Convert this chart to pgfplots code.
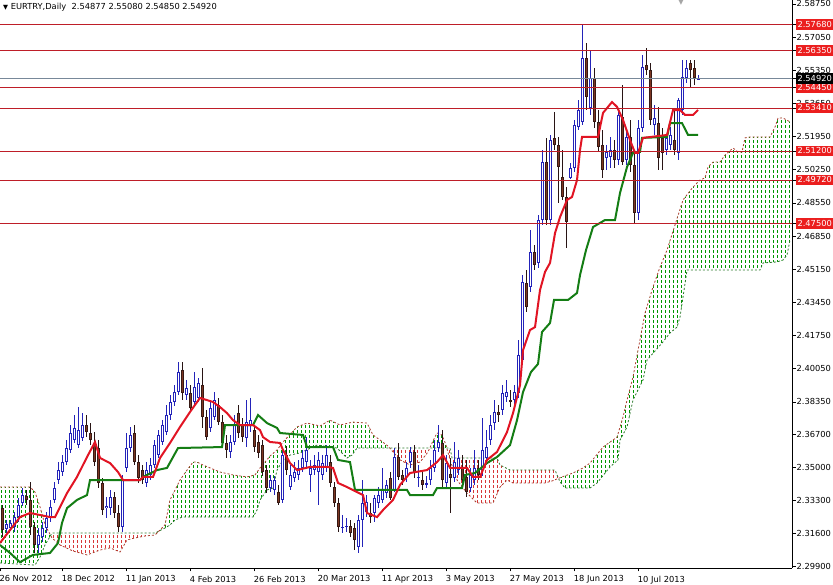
\documentclass[border=0pt]{standalone}
\usepackage{pgfplots}
\pgfplotsset{compat=1.18}
\usepackage{pgfplotstable}
\usepgfplotslibrary{fillbetween}
\usepackage{fontspec}
\setmainfont{DejaVu Sans}

\definecolor{bullc}{RGB}{35,35,185}
\definecolor{bearwick}{RGB}{40,20,20}
\definecolor{bearout}{RGB}{55,25,20}
\definecolor{bearin}{RGB}{125,55,35}
\definecolor{tenkan}{RGB}{225,20,35}
\definecolor{kijun}{RGB}{20,125,20}
\definecolor{hgreen}{RGB}{0,150,0}
\definecolor{hred}{RGB}{215,55,55}
\definecolor{spanA}{RGB}{170,60,45}
\definecolor{spanB}{RGB}{40,120,40}
\definecolor{hline}{RGB}{190,30,40}
\definecolor{lblred}{RGB}{235,30,30}
\definecolor{curline}{RGB}{120,136,153}

% vertical dotted hatching, one line per bar (bar k sits at 4k+2.7 pt)
\newcommand\hatch[3]{%
  \foreach \i in {#2,...,#3} {%
    \draw[#1, line width=1pt, dash pattern=on 3pt off 2pt] ({4pt*\i+2.7pt},0pt) -- ({4pt*\i+2.7pt},568pt);}}

\newcommand\rbox[1]{{\setlength{\fboxsep}{0pt}\colorbox{lblred}{\makebox[38pt][c]{\rule[-2.6pt]{0pt}{10.6pt}\color{white}#1}}}}
\newcommand\kbox[1]{{\setlength{\fboxsep}{0pt}\colorbox{black}{\makebox[38pt][c]{\rule[-2.6pt]{0pt}{10.6pt}\color{white}#1}}}}

\pgfplotsset{candle/.style={only marks, mark size=0pt, mark options={draw=none,fill=none}}}

\pgfplotstableread{
k o h l c
1 2.3183 2.3229 2.3162 2.3208
2 2.3188 2.3229 2.3173 2.3214
3 2.3193 2.3270 2.3167 2.3244
4 2.3244 2.3342 2.3219 2.3306
5 2.3316 2.3393 2.3301 2.3357
9 2.3101 2.3188 2.3060 2.3152
10 2.3142 2.3218 2.3116 2.3188
11 2.3188 2.3270 2.3162 2.3239
12 2.3244 2.3332 2.3219 2.3296
13 2.3332 2.3424 2.3316 2.3393
14 2.3434 2.3526 2.3414 2.3485
15 2.3475 2.3562 2.3455 2.3526
16 2.3526 2.3639 2.3511 2.3598
17 2.3588 2.3716 2.3573 2.3675
18 2.3639 2.3767 2.3624 2.3701
19 2.3613 2.3808 2.3598 2.3690
20 2.3649 2.3777 2.3634 2.3716
26 2.3290 2.3347 2.3239 2.3301
27 2.3290 2.3383 2.3255 2.3347
30 2.3193 2.3460 2.3167 2.3434
31 2.3496 2.3675 2.3475 2.3598
32 2.3598 2.3706 2.3578 2.3665
36 2.3419 2.3526 2.3398 2.3485
37 2.3460 2.3547 2.3434 2.3511
38 2.3511 2.3639 2.3496 2.3613
39 2.3562 2.3690 2.3547 2.3665
40 2.3629 2.3741 2.3613 2.3716
41 2.3680 2.3819 2.3665 2.3767
42 2.3767 2.3870 2.3741 2.3834
43 2.3834 2.3921 2.3813 2.3885
44 2.3885 2.4039 2.3870 2.3988
46 2.3870 2.3947 2.3844 2.3906
48 2.3834 2.3988 2.3819 2.3911
49 2.3855 2.3957 2.3834 2.3931
52 2.3701 2.3834 2.3680 2.3803
53 2.3757 2.3885 2.3741 2.3844
57 2.3578 2.3665 2.3547 2.3629
58 2.3629 2.3767 2.3613 2.3716
61 2.3649 2.3844 2.3603 2.3731
62 2.3716 2.3855 2.3680 2.3741
67 2.3393 2.3460 2.3372 2.3434
68 2.3383 2.3455 2.3357 2.3434
70 2.3332 2.3588 2.3316 2.3562
72 2.3398 2.3511 2.3383 2.3460
73 2.3445 2.3526 2.3424 2.3475
74 2.3460 2.3537 2.3434 2.3496
75 2.3496 2.3588 2.3475 2.3547
76 2.3526 2.3654 2.3501 2.3588
77 2.3460 2.3537 2.3372 2.3496
78 2.3485 2.3562 2.3460 2.3511
79 2.3475 2.3578 2.3306 2.3537
80 2.3460 2.3562 2.3434 2.3521
81 2.3501 2.3613 2.3475 2.3562
85 2.3188 2.3255 2.3162 2.3193
86 2.3193 2.3239 2.3167 2.3198
89 2.3091 2.3255 2.3060 2.3229
90 2.3229 2.3434 2.3091 2.3316
91 2.3270 2.3357 2.3244 2.3322
93 2.3265 2.3357 2.3218 2.3342
94 2.3316 2.3398 2.3290 2.3357
95 2.3332 2.3496 2.3316 2.3383
96 2.3367 2.3434 2.3342 2.3409
98 2.3383 2.3598 2.3372 2.3552
101 2.3450 2.3526 2.3424 2.3496
102 2.3526 2.3603 2.3496 2.3578
104 2.3445 2.3511 2.3398 2.3450
106 2.3409 2.3455 2.3393 2.3419
107 2.3434 2.3537 2.3409 2.3496
108 2.3496 2.3639 2.3475 2.3588
109 2.3598 2.3716 2.3578 2.3629
111 2.3419 2.3562 2.3393 2.3521
113 2.3445 2.3629 2.3424 2.3526
114 2.3485 2.3588 2.3460 2.3547
117 2.3393 2.3496 2.3372 2.3460
118 2.3434 2.3588 2.3409 2.3496
120 2.3485 2.3752 2.3455 2.3588
121 2.3547 2.3690 2.3526 2.3603
122 2.3639 2.3767 2.3613 2.3716
123 2.3726 2.3844 2.3690 2.3783
125 2.3793 2.3921 2.3767 2.3880
126 2.3860 2.3947 2.3834 2.3885
128 2.3844 2.3921 2.3793 2.3885
129 2.3880 2.4152 2.3855 2.4075
130 2.4049 2.4485 2.4024 2.4449
132 2.4424 2.4716 2.4398 2.4603
134 2.4547 2.4793 2.4522 2.4767
135 2.4767 2.5126 2.4742 2.5064
137 2.4767 2.5203 2.4742 2.5177
142 2.4983 2.5059 2.4975 2.5034
143 2.5034 2.5280 2.5013 2.5254
144 2.5244 2.5382 2.5229 2.5331
145 2.5270 2.5768 2.5254 2.5598
147 2.5341 2.5639 2.5306 2.5495
151 2.5085 2.5152 2.5024 2.5116
152 2.5090 2.5193 2.5034 2.5126
154 2.5075 2.5321 2.5049 2.5306
156 2.5075 2.5239 2.5049 2.5193
159 2.4803 2.5280 2.4767 2.5239
160 2.5239 2.5613 2.5218 2.5552
163 2.5254 2.5357 2.5203 2.5290
166 2.5126 2.5203 2.5100 2.5188
167 2.5152 2.5244 2.5126 2.5203
169 2.5111 2.5393 2.5075 2.5382
170 2.5331 2.5587 2.5306 2.5500
171 2.5495 2.5587 2.5470 2.5546
174 2.54877 2.5508 2.5485 2.5492
}\bull

\pgfplotstableread{
k o h l c
0 2.3290 2.3306 2.3142 2.3178
6 2.3352 2.3383 2.3306 2.3332
7 2.3332 2.3424 2.3152 2.3193
8 2.3193 2.3218 2.3060 2.3101
21 2.3716 2.3767 2.3654 2.3680
22 2.3675 2.3726 2.3613 2.3639
23 2.3624 2.3680 2.3506 2.3526
24 2.3598 2.3639 2.3393 2.3419
25 2.3419 2.3445 2.3255 2.3280
28 2.3347 2.3372 2.3239 2.3265
29 2.3265 2.3306 2.3167 2.3193
33 2.3675 2.3716 2.3511 2.3526
34 2.3526 2.3562 2.3419 2.3445
35 2.3485 2.3511 2.3414 2.3434
45 2.3998 2.4039 2.3844 2.3880
47 2.3880 2.3921 2.3783 2.3803
50 2.3921 2.4008 2.3701 2.3757
51 2.3757 2.3793 2.3639 2.3654
54 2.3819 2.3855 2.3716 2.3731
55 2.3731 2.3767 2.3603 2.3624
56 2.3624 2.3665 2.3547 2.3588
59 2.3777 2.3819 2.3649 2.3675
60 2.3716 2.3752 2.3629 2.3654
63 2.3690 2.3716 2.3578 2.3603
64 2.3629 2.3665 2.3547 2.3573
65 2.3613 2.3639 2.3455 2.3475
66 2.3485 2.3511 2.3367 2.3393
69 2.3372 2.3409 2.3306 2.3316
71 2.3562 2.3608 2.3460 2.3485
82 2.3526 2.3562 2.3398 2.3419
83 2.3398 2.3424 2.3296 2.3316
84 2.3316 2.3342 2.3167 2.3193
87 2.3198 2.3229 2.3142 2.3162
88 2.3188 2.3214 2.3075 2.3127
92 2.3265 2.3316 2.3214 2.3244
97 2.3445 2.3475 2.3332 2.3342
99 2.3552 2.3624 2.3434 2.3450
100 2.3460 2.3485 2.3409 2.3434
103 2.3578 2.3613 2.3445 2.3470
105 2.3434 2.3475 2.3383 2.3409
110 2.3624 2.3690 2.3393 2.3434
112 2.3465 2.3547 2.3265 2.3445
115 2.3496 2.3562 2.3409 2.3434
116 2.3450 2.3537 2.3347 2.3372
119 2.3496 2.3537 2.3434 2.3460
124 2.3783 2.3819 2.3731 2.3767
127 2.3844 2.3895 2.3808 2.3834
131 2.4444 2.4511 2.4295 2.4321
133 2.4603 2.4639 2.4511 2.4537
136 2.5064 2.5188 2.4742 2.4767
138 2.5188 2.5321 2.5126 2.5152
139 2.5152 2.5193 2.4854 2.5039
140 2.4988 2.5126 2.4870 2.4885
141 2.4885 2.4937 2.4624 2.4757
146 2.5598 2.5675 2.5331 2.5398
148 2.5495 2.5546 2.5239 2.5270
149 2.5270 2.5331 2.5116 2.5141
150 2.5152 2.5229 2.4983 2.5024
153 2.5126 2.5177 2.5034 2.5075
155 2.5295 2.5459 2.5049 2.5064
157 2.5193 2.5280 2.5013 2.5049
158 2.5049 2.5126 2.4750 2.4803
161 2.5562 2.5649 2.5510 2.5536
162 2.5536 2.5572 2.5254 2.5280
164 2.5264 2.5347 2.5024 2.5085
165 2.5188 2.5239 2.5024 2.5111
168 2.5177 2.5331 2.5100 2.5126
172 2.5572 2.5587 2.5449 2.5536
173 2.5546 2.5587 2.5459 2.5495
}\bear

\pgfplotstableread{
k p
-0.68 2.3111
4.33 2.3244
6.83 2.3265
11.83 2.3244
13.08 2.3244
16.08 2.3367
18.58 2.3450
21.08 2.3552
23.08 2.3629
24.33 2.3547
26.83 2.3521
28.83 2.3475
30.08 2.3434
34.33 2.3434
35.08 2.3450
37.58 2.3450
39.33 2.3547
41.83 2.3624
44.33 2.3706
46.83 2.3783
49.33 2.3855
52.58 2.3834
54.33 2.3808
56.08 2.3777
57.58 2.3741
59.33 2.3716
62.58 2.3716
64.33 2.3690
65.08 2.3654
66.83 2.3629
69.33 2.3624
70.08 2.3588
71.83 2.3521
73.58 2.3485
76.83 2.3501
81.33 2.3501
82.58 2.3496
83.83 2.3419
86.08 2.3398
88.58 2.3372
90.08 2.3357
91.08 2.3265
93.58 2.3244
95.08 2.3280
97.58 2.3332
99.33 2.3409
101.83 2.3470
106.08 2.3485
108.58 2.3526
110.08 2.3562
111.83 2.3496
116.08 2.3496
117.58 2.3450
119.33 2.3450
121.08 2.3537
123.58 2.3578
126.08 2.3680
127.58 2.3777
129.33 2.3921
130.08 2.4100
131.83 2.4203
133.08 2.4218
134.33 2.4408
135.58 2.4501
136.83 2.4547
138.08 2.4700
139.33 2.4782
141.08 2.4870
142.33 2.4885
143.58 2.4972
144.33 2.5126
144.83 2.5193
148.83 2.5193
150.08 2.5316
152.33 2.5372
153.58 2.5347
155.08 2.5280
156.83 2.5177
158.08 2.5111
158.83 2.5111
160.08 2.5188
166.08 2.5203
167.58 2.5331
169.33 2.5331
170.58 2.5306
172.58 2.5306
173.83 2.5331
}\tenkantab

\pgfplotstableread{
k p
-0.68 2.3101
1.83 2.3060
4.33 2.3013
7.58 2.3050
11.83 2.3060
13.83 2.3111
14.83 2.3214
16.08 2.3290
18.58 2.3332
21.08 2.3357
21.83 2.3434
34.33 2.3434
35.08 2.3450
38.58 2.3485
41.08 2.3496
43.83 2.3598
54.83 2.3603
55.58 2.3716
62.58 2.3716
63.83 2.3767
66.08 2.3726
68.58 2.3701
69.33 2.3675
75.08 2.3665
76.08 2.3603
82.58 2.3603
83.83 2.3537
86.83 2.3526
88.08 2.3383
101.08 2.3383
101.83 2.3357
107.58 2.3357
108.58 2.3393
114.83 2.3393
115.58 2.3460
118.08 2.3470
121.08 2.3521
123.58 2.3552
126.83 2.3613
128.58 2.3741
130.08 2.3885
132.08 2.3988
133.83 2.4029
134.83 2.4193
136.83 2.4239
137.83 2.4357
141.33 2.4357
143.58 2.4393
144.33 2.4485
145.83 2.4613
147.58 2.4731
150.58 2.4767
153.08 2.4767
154.33 2.4906
156.08 2.5039
157.58 2.5111
159.33 2.5116
159.83 2.5188
166.08 2.5193
166.83 2.5264
169.83 2.5264
171.33 2.5203
173.83 2.5203
}\kijuntab

\pgfplotstableread{
k p
-0.68 2.3398
6.83 2.3398
8.08 2.3372
9.33 2.3296
10.58 2.3204
12.33 2.3137
14.33 2.3101
17.58 2.3070
21.08 2.3050
24.33 2.3075
26.83 2.3086
29.33 2.3065
31.08 2.3127
33.08 2.3137
35.58 2.3147
38.08 2.3152
40.58 2.3204
41.83 2.3332
43.08 2.3383
44.33 2.3434
46.08 2.3485
47.58 2.3526
48.58 2.3526
50.08 2.3511
51.83 2.3496
54.33 2.3475
57.58 2.3460
61.08 2.3450
63.08 2.3460
64.33 2.3496
65.58 2.3526
66.83 2.3557
68.58 2.3588
70.08 2.3629
73.58 2.3706
76.08 2.3726
79.33 2.3711
81.83 2.3741
84.33 2.3716
87.58 2.3731
91.08 2.3726
92.58 2.3665
94.33 2.3639
96.33 2.3608
97.58 2.3578
99.33 2.3537
101.83 2.3511
104.33 2.3526
106.33 2.3578
107.33 2.3624
108.58 2.3675
109.83 2.3665
110.83 2.3613
111.83 2.3537
113.58 2.3434
116.08 2.3367
118.58 2.3316
122.58 2.3316
124.33 2.3398
126.08 2.3434
127.58 2.3419
135.58 2.3419
137.33 2.3429
139.83 2.3450
142.58 2.3470
145.08 2.3496
146.83 2.3521
150.08 2.3603
153.58 2.3654
155.08 2.3757
156.08 2.3844
157.58 2.3962
158.83 2.4100
160.58 2.4290
162.58 2.4424
164.33 2.4526
166.08 2.4613
168.08 2.4742
170.08 2.4870
172.58 2.4936
174.33 2.4972
175.58 2.4983
176.33 2.5039
177.58 2.5064
179.33 2.5064
180.58 2.5100
182.58 2.5136
183.83 2.5116
184.83 2.5116
185.58 2.5188
186.83 2.5193
191.83 2.5193
193.08 2.5244
193.83 2.5290
195.08 2.5290
196.83 2.5270
}\spanAtab

\pgfplotstableread{
k p
-0.68 2.3009
8.08 2.2998
9.33 2.3039
10.58 2.3101
12.33 2.3162
38.08 2.3162
40.58 2.3188
41.83 2.3204
43.08 2.3229
44.83 2.3244
62.58 2.3244
63.58 2.3280
64.33 2.3332
66.08 2.3383
67.58 2.3393
68.58 2.3485
70.08 2.3537
71.83 2.3562
74.33 2.3573
78.58 2.3613
83.58 2.3598
86.08 2.3547
87.33 2.3562
88.58 2.3598
111.83 2.3598
112.33 2.3547
123.58 2.3547
124.33 2.3511
126.83 2.3485
138.08 2.3485
139.33 2.3424
140.58 2.3393
146.83 2.3393
148.58 2.3419
151.83 2.3501
153.83 2.3537
154.33 2.3639
156.08 2.3706
157.58 2.3844
160.08 2.3947
161.08 2.4049
164.83 2.4136
166.83 2.4188
168.58 2.4218
169.33 2.4270
170.08 2.4372
171.08 2.4511
189.33 2.4511
190.08 2.4547
193.58 2.4552
195.08 2.4562
196.08 2.4588
196.83 2.4665
}\spanBtab

\begin{document}
\begin{tikzpicture}
\begin{axis}[
  at={(0pt,0pt)}, anchor=south west,
  scale only axis, width=792pt, height=568pt,
  xmin=-0.675, xmax=197.325, ymin=2.2983, ymax=2.5895,
  axis x line*=bottom, axis y line*=right,
  axis line style={-, black, line width=0.8pt},
  tick align=outside, major tick length=3.5pt,
  tick style={black, line width=0.6pt},
  tick label style={font=\fontsize{8.3}{10}\selectfont},
  xtick={-0.6,15,31,47,63,79,95,111,127,143,159},
  xticklabels={26 Nov 2012,18 Dec 2012,11 Jan 2013,4 Feb 2013,26 Feb 2013,20 Mar 2013,11 Apr 2013,3 May 2013,27 May 2013,18 Jun 2013,10 Jul 2013},
  xticklabel style={anchor=north west, inner sep=0pt, xshift=-1pt, yshift=-4pt},
  ytick={2.5875,2.5705,2.5535,2.5365,2.5195,2.5025,2.4855,2.4685,2.4515,2.4345,2.4175,2.4005,2.3835,2.3670,2.3500,2.3330,2.3160,2.2990},
  yticklabels={2.58750,2.57050,2.55350,2.53650,2.51950,2.50250,2.48550,2.46850,2.45150,2.43450,2.41750,2.40050,2.38350,2.36700,2.35000,2.33300,2.31600,2.29900},
  yticklabel style={anchor=west, inner sep=0pt, xshift=1pt},
  extra y ticks={2.5768,2.5635,2.5445,2.5341,2.5120,2.4972,2.4750,2.5492},
  extra y tick labels={\rbox{2.57680},\rbox{2.56350},\rbox{2.54450},\rbox{2.53410},\rbox{2.51200},\rbox{2.49720},\rbox{2.47500},\kbox{2.54920}},
  extra y tick style={yticklabel style={xshift=-1pt}},
]
% Ichimoku cloud boundaries
\addplot[name path=A, spanA, line width=0.8pt, dash pattern=on 2pt off 2pt] table[x=k, y=p] {\spanAtab};
\addplot[name path=B, spanB, line width=0.8pt, dash pattern=on 2pt off 2pt] table[x=k, y=p] {\spanBtab};
% cloud hatching: green where span A is above span B, red where below
\addplot[draw=none, fill=none, path picture={\hatch{hgreen}{-1}{12}}]  fill between[of=A and B, soft clip={domain=-1:11.99}];
\addplot[draw=none, fill=none, path picture={\hatch{hred}{11}{40}}]    fill between[of=A and B, soft clip={domain=11.99:39.04}];
\addplot[draw=none, fill=none, path picture={\hatch{hgreen}{38}{98}}]  fill between[of=A and B, soft clip={domain=39.04:96.75}];
\addplot[draw=none, fill=none, path picture={\hatch{hred}{96}{108}}]   fill between[of=A and B, soft clip={domain=96.75:106.76}];
\addplot[draw=none, fill=none, path picture={\hatch{hgreen}{106}{112}}] fill between[of=A and B, soft clip={domain=106.76:111.03}];
\addplot[draw=none, fill=none, path picture={\hatch{hred}{110}{140}}]  fill between[of=A and B, soft clip={domain=111.03:138.95}];
\addplot[draw=none, fill=none, path picture={\hatch{hgreen}{138}{197}}] fill between[of=A and B, soft clip={domain=138.95:198}];
% wicks
\addplot[candle, error bars/.cd, y dir=both, y explicit, error mark=none,
   error bar style={line width=1pt, draw=bullc}]
   table[x=k, y=c, y error plus expr=\thisrow{h}-\thisrow{c}, y error minus expr=\thisrow{c}-\thisrow{l}] {\bull};
\addplot[candle, error bars/.cd, y dir=both, y explicit, error mark=none,
   error bar style={line width=1pt, draw=bearwick}]
   table[x=k, y=c, y error plus expr=\thisrow{h}-\thisrow{c}, y error minus expr=\thisrow{c}-\thisrow{l}] {\bear};
% bodies
\addplot[candle, error bars/.cd, y dir=minus, y explicit, error mark=none,
   error bar style={line width=3pt, draw=bullc}]
   table[x=k, y=c, y error minus expr=\thisrow{c}-\thisrow{o}] {\bull};
\addplot[candle, error bars/.cd, y dir=minus, y explicit, error mark=none,
   error bar style={line width=1pt, draw=white}]
   table[x=k, y expr=\thisrow{c}-0.0005, y error minus expr={max(\thisrow{c}-\thisrow{o}-0.001,0)}] {\bull};
\addplot[candle, error bars/.cd, y dir=plus, y explicit, error mark=none,
   error bar style={line width=3pt, draw=bearout}]
   table[x=k, y=c, y error plus expr=\thisrow{o}-\thisrow{c}] {\bear};
\addplot[candle, error bars/.cd, y dir=plus, y explicit, error mark=none,
   error bar style={line width=1pt, draw=bearin}]
   table[x=k, y expr=\thisrow{c}+0.0005, y error plus expr={max(\thisrow{o}-\thisrow{c}-0.001,0)}] {\bear};
% Tenkan / Kijun
\addplot[kijun, line width=2pt] table[x=k, y=p] {\kijuntab};
\addplot[tenkan, line width=2pt] table[x=k, y=p] {\tenkantab};
% horizontal levels
\pgfplotsinvokeforeach{2.5768,2.5635,2.5445,2.5341,2.5120,2.4972,2.4750}{
  \addplot[hline, line width=1pt] coordinates {(-1,#1) (198,#1)};
}
\addplot[curline, line width=1pt] coordinates {(-1,2.5492) (198,2.5492)};
\end{axis}
\node[anchor=west, inner sep=0pt, font=\fontsize{8.3}{10}\selectfont] at (3pt,561pt)
  {{\fontsize{6.5}{7}\selectfont ▼}\ EURTRY,Daily\ \ 2.54877 2.55080 2.54850 2.54920};
\node[anchor=north, inner sep=0pt, text=black!35, font=\fontsize{7}{7}\selectfont] at (681pt,568pt) {▼};
\pgfresetboundingbox
\useasboundingbox (0pt,-17pt) rectangle (833pt,568pt);
\end{tikzpicture}
\end{document}
